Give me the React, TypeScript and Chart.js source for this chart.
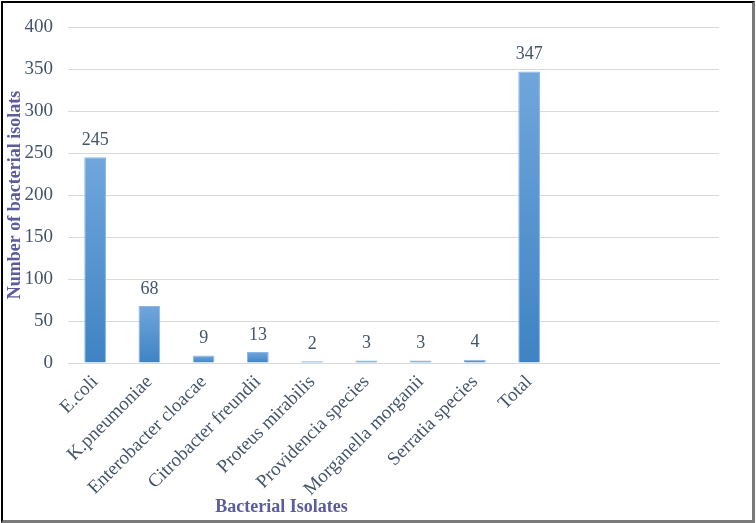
import React, { useEffect, useRef } from "react";
import { Chart, registerables } from "chart.js";

Chart.register(...registerables);

const categories = [
  "E.coli",
  "K.pneumoniae",
  "Enterobacter cloacae",
  "Citrobacter freundii",
  "Proteus mirabilis",
  "Providencia species",
  "Morganella morganii",
  "Serratia species",
  "Total",
];
const isolates = [245, 68, 9, 13, 2, 3, 3, 4, 347];
const emptySlots = ["", "", ""];
const yTicks = [0, 50, 100, 150, 200, 250, 300, 350, 400];

const FONT = "'Liberation Serif', 'Times New Roman', serif";
const TEXT = "#44546a";
const TITLE = "#5b5b9e";

function barFill(context: any) {
  const chart = context.chart;
  const yScale = chart.scales && chart.scales.y;
  const v = context.raw;
  if (!yScale || v == null || context.type !== "data") return "#5a97d3";
  const top = yScale.getPixelForValue(v);
  const base = yScale.getPixelForValue(0);
  if (!isFinite(top) || !isFinite(base) || top === base) return "#5a97d3";
  const g = chart.ctx.createLinearGradient(0, top, 0, base);
  g.addColorStop(0, "#70a6dc");
  g.addColorStop(1, "#3f83c3");
  return g;
}

const valueLabelPlugin = {
  id: "valueLabels",
  afterDatasetsDraw(chart: any) {
    const ctx = chart.ctx;
    const meta = chart.getDatasetMeta(0);
    const data = chart.data.datasets[0].data;
    ctx.save();
    ctx.font = `18px ${FONT}`;
    ctx.fillStyle = TEXT;
    ctx.textAlign = "center";
    ctx.textBaseline = "bottom";
    meta.data.forEach((el: any, i: number) => {
      const v = data[i];
      if (v == null) return;
      ctx.fillText(String(v), el.x, el.y - 8);
    });
    ctx.restore();
  },
};

const xTitlePlugin = {
  id: "xTitle",
  afterDraw(chart: any) {
    const ctx = chart.ctx;
    const area = chart.chartArea;
    ctx.save();
    ctx.font = `bold 18px ${FONT}`;
    ctx.fillStyle = TITLE;
    ctx.textAlign = "center";
    ctx.textBaseline = "middle";
    ctx.fillText("Bacterial Isolates", area.left + area.width * 0.328, 507);
    ctx.restore();
  },
};

export default function App() {
  const ref = useRef<HTMLCanvasElement | null>(null);

  useEffect(() => {
    if (!ref.current) return;
    const labels = [...categories, ...emptySlots];
    const values = [...isolates, ...emptySlots.map(() => null)];
    const chart = new Chart(ref.current, {
      type: "bar",
      data: {
        labels,
        datasets: [
          {
            data: values as any,
            backgroundColor: barFill,
            borderColor: "#8ab6e4",
            borderWidth: 1,
            categoryPercentage: 1,
            barPercentage: 0.4,
          },
        ],
      },
      options: {
        responsive: false,
        animation: false,
        layout: { padding: { top: 27, right: 37, left: 0, bottom: 0 } },
        plugins: {
          legend: { display: false },
          tooltip: { enabled: false },
        },
        scales: {
          x: {
            grid: { display: false, drawTicks: false },
            border: { display: true, color: "#d9d9d9" },
            ticks: {
              font: { family: FONT, size: 19 },
              color: TEXT,
              minRotation: 45,
              maxRotation: 45,
              autoSkip: false,
              padding: 8,
            },
            afterFit(scale: any) {
              scale.height = 160;
            },
          },
          y: {
            min: 0,
            max: 400,
            afterBuildTicks(scale: any) {
              scale.ticks = yTicks.map((v) => ({ value: v }));
            },
            grid: { color: "#d9d9d9", drawTicks: false },
            border: { display: false },
            ticks: {
              font: { family: FONT, size: 19 },
              color: TEXT,
              padding: 15,
            },
            title: {
              display: true,
              text: "Number of bacterial isolats",
              font: { family: FONT, size: 18, weight: "bold" },
              color: TITLE,
              padding: { top: 5, bottom: 0 },
            },
            afterFit(scale: any) {
              scale.width = 68;
            },
          },
        },
      },
      plugins: [valueLabelPlugin, xTitlePlugin],
    });
    return () => chart.destroy();
  }, []);

  return (
    <div style={{ position: "absolute", left: 0, top: 0, width: 756, height: 523, background: "#fff" }}>
      <canvas ref={ref} width={756} height={523} style={{ position: "absolute", left: 0, top: 0 }} />
      <div
        style={{
          position: "absolute",
          left: 1,
          top: 1,
          width: 754,
          height: 522,
          boxSizing: "border-box",
          borderTop: "2px solid #000",
          borderLeft: "2px solid #000",
          borderRight: "3px solid #7a7a7a",
          borderBottom: "3px solid #7a7a7a",
          pointerEvents: "none",
        }}
      />
    </div>
  );
}
